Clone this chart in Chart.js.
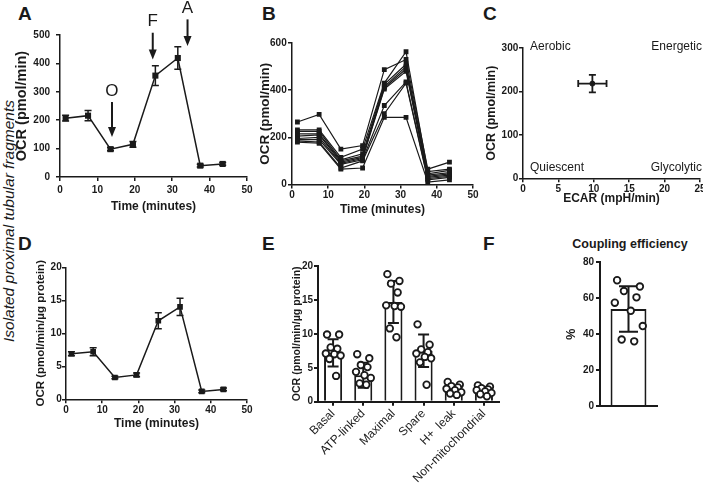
<!DOCTYPE html>
<html>
<head>
<meta charset="utf-8">
<script src="https://cdn.jsdelivr.net/npm/chart.js@4.4.1/dist/chart.umd.min.js"></script>
<style>
  body { margin: 0; width: 703px; height: 486px; overflow: hidden; background: #fff; position: relative;
         font-family: "Liberation Sans", Arial, Helvetica, sans-serif; color: #1a1a1a; }
  canvas { position: absolute; }
  .panel { position: absolute; font-size: 19px; font-weight: bold; line-height: 1; }
  .side { position: absolute; left: -141px; top: 212px; width: 300px; height: 18px; line-height: 18px;
          text-align: center; font-size: 15.5px; font-style: italic; transform: rotate(-90deg); }
  .ftitle { position: absolute; left: 560px; top: 236px; width: 140px; text-align: center;
            font-size: 12.5px; font-weight: bold; line-height: 16px; }
</style>
</head>
<body>
<div class="side">Isolated proximal tubular fragments</div>
<div class="panel" style="left:18px;top:4px">A</div>
<div class="panel" style="left:262px;top:4px">B</div>
<div class="panel" style="left:483px;top:4px">C</div>
<div class="panel" style="left:18px;top:234px">D</div>
<div class="panel" style="left:262px;top:234px">E</div>
<div class="panel" style="left:483px;top:234px">F</div>
<div class="ftitle">Coupling efficiency</div>

<canvas id="chart-a" width="260" height="215" style="left:0;top:0"></canvas>
<canvas id="chart-b" width="230" height="220" style="left:250px;top:0"></canvas>
<canvas id="chart-c" width="240" height="215" style="left:470px;top:0"></canvas>
<canvas id="chart-d" width="260" height="215" style="left:0;top:240px"></canvas>
<canvas id="chart-e" width="255" height="246" style="left:255px;top:240px"></canvas>
<canvas id="chart-f" width="198" height="200" style="left:505px;top:230px"></canvas>

<script>
// Mito stress test panels

const times = [1.5, 7.5, 13.5, 19.5, 25.5, 31.5, 37.5, 43.5];

// A: mean OCR per measurement
const ocrMean = [207, 216, 98, 115, 357, 419, 40, 46];
const ocrErr = [10, 18, 6, 10, 35, 40, 5, 5];
const arrowLabels = ['O', 'F', 'A'];
const arrowTimes = [13.9, 24.8, 34.1];
const arrowTails = [264, 508, 555];
const arrowTips = [141, 414, 461];

// B: individual wells
const wellTraces = [
    [265, 297, 150, 165, 487, 530, 65, 95],
    [232, 232, 115, 150, 430, 563, 55, 65],
    [225, 225, 105, 130, 425, 510, 45, 60],
    [215, 215, 100, 120, 415, 500, 40, 50],
    [205, 210, 95, 115, 410, 490, 35, 45],
    [195, 200, 90, 110, 405, 480, 30, 40],
    [190, 190, 85, 105, 335, 435, 25, 35],
    [185, 180, 70, 100, 300, 430, 20, 30],
    [180, 175, 65, 70, 285, 285, 10, 20]
];

// C: energy map
const ecarMean = [9.8];
const ecarErr = [2.0];
const basalOcr = [218];
const basalOcrErr = [20];
const quadrantLabels = ['Aerobic', 'Energetic', 'Quiescent', 'Glycolytic'];

// D: normalised to protein
const ocrProtein = [6.9, 7.2, 3.3, 3.7, 11.9, 14.0, 1.2, 1.5];
const ocrProteinErr = [0.3, 0.6, 0.2, 0.3, 1.2, 1.3, 0.2, 0.2];

// E: respiratory parameters
const parameters = ['Basal', 'ATP-linked', 'Maximal', 'Spare', 'H+  leak', 'Non-mitochondrial'];
const paramMean = [7.2, 3.9, 14.7, 7.5, 1.8, 1.7];
const paramSd = [2.0, 1.85, 3.1, 2.4, 0.6, 0.5];
const paramDots = [
    [9.9, 9.9, 8.0, 7.8, 7.1, 7.0, 6.8, 6.3, 3.8],
    [7.0, 6.4, 5.4, 5.1, 4.4, 3.9, 3.5, 2.7, 2.5],
    [18.8, 17.8, 17.4, 16.1, 14.2, 14.1, 14.0, 10.8, 9.5],
    [11.4, 8.4, 7.7, 7.3, 7.1, 6.6, 6.4, 5.8, 2.5],
    [2.9, 2.5, 2.3, 2.1, 1.9, 1.7, 1.4, 1.2, 1.0],
    [2.4, 2.2, 2.0, 1.8, 1.7, 1.5, 1.3, 1.1, 0.8]
];

// F: coupling efficiency
const couplingMean = [54];
const couplingSd = [12.7];
const couplingDots = [70, 66.5, 64, 60.5, 57.5, 53, 44.5, 37, 36];

const FONT = '"Liberation Sans", Arial, Helvetica, sans-serif';
const INK = '#1a1a1a';
const jitter = [-0.2, 0.2, -0.08, 0.14, -0.24, 0.04, 0.25, -0.12, 0.1];

function axis(o) {
    return {
        type: o.type || 'linear',
        min: o.min,
        max: o.max,
        offset: o.offset || false,
        afterFit: s => {
            if (s.isHorizontal()) s.height = o.size;
            else s.width = o.size;
        },
        border: { display: true, color: INK, width: o.lineWidth || 1.5 },
        grid: {
            display: true, drawOnChartArea: false, drawTicks: o.drawTicks !== false,
            tickLength: 4, color: INK, lineWidth: o.lineWidth || 1.5, offset: false
        },
        ticks: {
            display: o.showTicks !== false,
            stepSize: o.step,
            padding: o.pad,
            color: INK,
            autoSkip: false,
            maxRotation: o.rot || 0,
            minRotation: o.rot || 0,
            font: o.tickFont || { family: FONT, size: 10, weight: 'bold' }
        },
        title: o.title ? {
            display: true, text: o.title, color: INK,
            font: { family: FONT, size: o.titleSize, weight: 'bold' },
            padding: { top: o.titlePad, bottom: o.titlePad }
        } : { display: false }
    };
}

function baseOptions(padding, scales) {
    return {
        responsive: false,
        animation: false,
        layout: { padding: padding },
        plugins: { legend: { display: false }, tooltip: { enabled: false } },
        scales: scales
    };
}

function drawErrors(chart, index) {
    const ds = chart.data.datasets[index];
    if (!ds.errY && !ds.errX) return;
    const meta = chart.getDatasetMeta(index);
    const xs = chart.scales[meta.xAxisID];
    const ys = chart.scales[meta.yAxisID];
    const ctx = chart.ctx;
    const cap = ds.capWidth || 7;
    ctx.save();
    ctx.strokeStyle = INK;
    ctx.lineWidth = ds.errWidth || 1.5;
    meta.data.forEach((el, j) => {
        const p = meta._parsed[j];
        ctx.beginPath();
        if (ds.errY) {
            const y1 = ys.getPixelForValue(p.y + ds.errY[j]);
            const y2 = ys.getPixelForValue(p.y - ds.errY[j]);
            ctx.moveTo(el.x, y1); ctx.lineTo(el.x, y2);
            ctx.moveTo(el.x - cap / 2, y1); ctx.lineTo(el.x + cap / 2, y1);
            ctx.moveTo(el.x - cap / 2, y2); ctx.lineTo(el.x + cap / 2, y2);
        }
        if (ds.errX) {
            const x1 = xs.getPixelForValue(p.x - ds.errX[j]);
            const x2 = xs.getPixelForValue(p.x + ds.errX[j]);
            ctx.moveTo(x1, el.y); ctx.lineTo(x2, el.y);
            ctx.moveTo(x1, el.y - cap / 2); ctx.lineTo(x1, el.y + cap / 2);
            ctx.moveTo(x2, el.y - cap / 2); ctx.lineTo(x2, el.y + cap / 2);
        }
        ctx.stroke();
    });
    ctx.restore();
}

const errorBars = {
    id: 'errorBars',
    beforeDatasetDraw(chart, args) {
        if (chart.data.datasets[args.index].errorBehind) drawErrors(chart, args.index);
    },
    afterDatasetDraw(chart, args) {
        if (!chart.data.datasets[args.index].errorBehind) drawErrors(chart, args.index);
    }
};

const injectionArrows = {
    id: 'injectionArrows',
    afterDraw(chart) {
        const { ctx, scales: { x, y } } = chart;
        ctx.save();
        ctx.fillStyle = INK;
        ctx.strokeStyle = INK;
        ctx.lineWidth = 2;
        ctx.font = '17px ' + FONT;
        ctx.textAlign = 'center';
        ctx.textBaseline = 'middle';
        arrowLabels.forEach((label, i) => {
            const px = x.getPixelForValue(arrowTimes[i]);
            const tail = y.getPixelForValue(arrowTails[i]);
            const tip = y.getPixelForValue(arrowTips[i]);
            ctx.beginPath();
            ctx.moveTo(px, tail);
            ctx.lineTo(px, tip - 8);
            ctx.stroke();
            ctx.beginPath();
            ctx.moveTo(px - 4, tip - 10);
            ctx.lineTo(px + 4, tip - 10);
            ctx.lineTo(px, tip);
            ctx.closePath();
            ctx.fill();
            ctx.fillText(label, px, tail - 11);
        });
        ctx.restore();
    }
};

const quadrants = {
    id: 'quadrants',
    afterDraw(chart) {
        const { ctx, chartArea: a } = chart;
        ctx.save();
        ctx.fillStyle = INK;
        ctx.font = '12px ' + FONT;
        ctx.textBaseline = 'middle';
        ctx.textAlign = 'left';
        ctx.fillText(quadrantLabels[0], a.left + 7, a.top - 1);
        ctx.fillText(quadrantLabels[2], a.left + 7, a.bottom - 11);
        ctx.textAlign = 'right';
        ctx.fillText(quadrantLabels[1], a.right + 2, a.top - 1);
        ctx.fillText(quadrantLabels[3], a.right + 2, a.bottom - 11);
        ctx.restore();
    }
};

function timeLine(values, errors, radius) {
    return {
        data: times.map((t, i) => ({ x: t, y: values[i] })),
        errY: errors,
        errorBehind: true,
        borderColor: INK,
        backgroundColor: INK,
        borderWidth: 1.5,
        pointStyle: 'rect',
        pointRadius: radius,
        pointBorderWidth: 0,
        tension: 0
    };
}

// A
new Chart(document.getElementById('chart-a'), {
    type: 'line',
    data: { datasets: [timeLine(ocrMean, ocrErr, 4.3)] },
    options: baseOptions({ top: 35, right: 13 }, {
        x: axis({ min: 0, max: 50, step: 10, size: 38, pad: 3.5, title: 'Time (minutes)', titleSize: 12, titlePad: 1.1 }),
        y: axis({ min: 0, max: 500, step: 100, size: 60, pad: 6, title: 'OCR (pmol/min)', titleSize: 14.5, titlePad: 13.3 })
    }),
    plugins: [errorBars, injectionArrows]
});

// B
new Chart(document.getElementById('chart-b'), {
    type: 'line',
    data: {
        datasets: wellTraces.map(trace => ({
            data: times.map((t, i) => ({ x: t, y: trace[i] })),
            borderColor: INK,
            backgroundColor: INK,
            borderWidth: 1.2,
            pointStyle: 'rect',
            pointRadius: 3.4,
            pointBorderWidth: 0,
            tension: 0
        }))
    },
    options: baseOptions({ top: 43, right: 7 }, {
        x: axis({ min: 0, max: 50, step: 10, size: 35.5, pad: 0.5, title: 'Time (minutes)', titleSize: 12, titlePad: 3.5 }),
        y: axis({ min: 0, max: 600, step: 200, size: 42, pad: 1.3, title: 'OCR (pmol/min)', titleSize: 13.4, titlePad: 7 })
    })
});

// C
new Chart(document.getElementById('chart-c'), {
    type: 'scatter',
    data: {
        datasets: [{
            data: ecarMean.map((e, i) => ({ x: e, y: basalOcr[i] })),
            errX: ecarErr,
            errY: basalOcrErr,
            errorBehind: true,
            capWidth: 7,
            errWidth: 1.8,
            backgroundColor: INK,
            borderColor: INK,
            pointRadius: 2.5
        }]
    },
    options: baseOptions({ top: 48, right: 10 }, {
        x: axis({ min: 0, max: 25, step: 5, size: 36.7, pad: 0.7, title: 'ECAR (mpH/min)', titleSize: 12, titlePad: 9.5 }),
        y: axis({ min: 0, max: 300, step: 100, size: 53, pad: 0.7, title: 'OCR (pmol/min)', titleSize: 12.5, titlePad: 14.5 })
    }),
    plugins: [errorBars, quadrants]
});

// D
new Chart(document.getElementById('chart-d'), {
    type: 'line',
    data: { datasets: [timeLine(ocrProtein, ocrProteinErr, 4)] },
    options: baseOptions({ top: 27.3, right: 13 }, {
        x: axis({ min: 0, max: 50, step: 10, size: 55.7, pad: 0.7, title: 'Time (minutes)', titleSize: 12, titlePad: 24.5 }),
        y: axis({ min: 0, max: 20, step: 5, size: 66, pad: 0.3, title: 'OCR (pmol/min/µg protein)', titleSize: 11.5, titlePad: 34.4 })
    }),
    plugins: [errorBars]
});

function dotPoints(groups) {
    const pts = [];
    groups.forEach((group, i) => {
        group.forEach((v, j) => pts.push({ x: i + jitter[j % jitter.length], y: v }));
    });
    return pts;
}

function dotDataset(groups) {
    return {
        type: 'scatter',
        xAxisID: 'xj',
        order: 1,
        data: dotPoints(groups),
        backgroundColor: '#fff',
        borderColor: INK,
        borderWidth: 1.8,
        pointRadius: 3.3
    };
}

function meanBar(values, errors, cap, width) {
    return {
        type: 'bar',
        order: 2,
        grouped: false,
        data: values,
        errY: errors,
        capWidth: cap,
        errWidth: 2,
        backgroundColor: '#fff',
        borderColor: INK,
        borderWidth: 2,
        barPercentage: width,
        categoryPercentage: 1
    };
}

// E
new Chart(document.getElementById('chart-e'), {
    type: 'bar',
    data: {
        labels: parameters,
        datasets: [dotDataset(paramDots), meanBar(paramMean, paramSd, 11, 0.6)]
    },
    options: baseOptions({ top: 26, right: 11 }, {
        x: axis({
            type: 'category', offset: true, size: 84.3, pad: 1, rot: 45, lineWidth: 2,
            tickFont: { family: FONT, size: 12 }
        }),
        xj: { type: 'linear', display: false, offset: false, min: -0.5, max: parameters.length - 0.5 },
        y: axis({ min: 0, max: 20, step: 5, size: 63, pad: 1, lineWidth: 2, title: 'OCR (pmol/min/µg protein)', titleSize: 10.6, titlePad: 35.6 })
    }),
    plugins: [errorBars]
});

// F
new Chart(document.getElementById('chart-f'), {
    type: 'bar',
    data: {
        labels: [''],
        datasets: [dotDataset([couplingDots]), meanBar(couplingMean, couplingSd, 19, 0.63)]
    },
    options: baseOptions({ top: 32.3, right: 46 }, {
        x: axis({ type: 'category', offset: true, size: 24, showTicks: false, drawTicks: false, lineWidth: 2 }),
        xj: { type: 'linear', display: false, offset: false, min: -0.5, max: 0.5 },
        y: axis({ min: 0, max: 80, step: 20, size: 95, pad: 2, lineWidth: 2, title: '%', titleSize: 12.5, titlePad: 59.5 })
    }),
    plugins: [errorBars]
});
</script>
</body>
</html>
